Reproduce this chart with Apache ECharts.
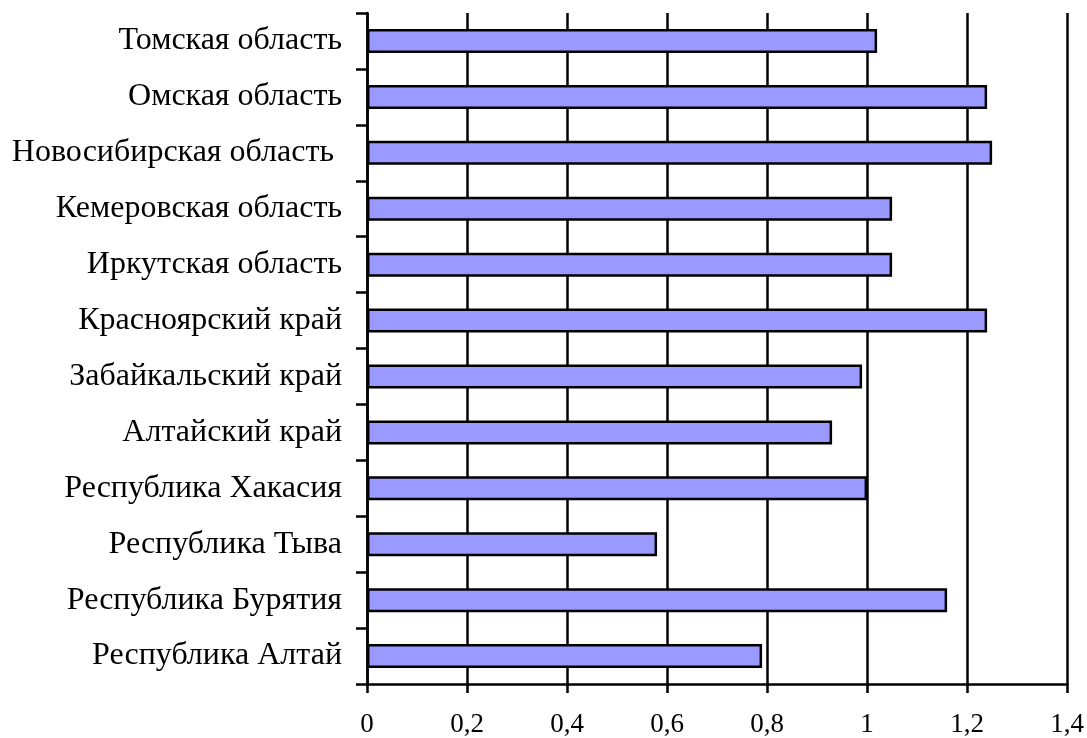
<!DOCTYPE html>
<html>
<head>
<meta charset="utf-8">
<script src="https://cdn.jsdelivr.net/npm/echarts@6/dist/echarts.min.js"></script>
<style>
  html, body { margin: 0; padding: 0; background: #fff; }
  #chart { width: 1087px; height: 738px; }
</style>
</head>
<body>
<div id="chart"></div>
<script>
// регионы сверху вниз
var regions = [
  'Томская область',
  'Омская область',
  'Новосибирская область ',
  'Кемеровская область',
  'Иркутская область',
  'Красноярский край',
  'Забайкальский край',
  'Алтайский край',
  'Республика Хакасия',
  'Республика Тыва',
  'Республика Бурятия',
  'Республика Алтай'
]
var values = [1.02, 1.24, 1.25, 1.05, 1.05, 1.24, 0.99, 0.93, 1.0, 0.58, 1.16, 0.79]
var xTicks = [0, 0.2, 0.4, 0.6, 0.8, 1, 1.2, 1.4]

var chart = echarts.init(document.getElementById('chart'))
var font = '"Liberation Serif", "Times New Roman", serif'

var option = {
  animation: false,
  backgroundColor: '#fff',
  grid: { left: 367, right: 19, top: 13, bottom: 52, containLabel: false },
  xAxis: {
    type: 'value',
    min: xTicks[0],
    max: xTicks[xTicks.length - 1],
    interval: 0.2,
    axisLine: { show: true, lineStyle: { color: '#000', width: 2.5 } },
    axisTick: { show: true, length: 9, lineStyle: { color: '#000', width: 2.5 } },
    splitLine: { show: true, lineStyle: { color: '#000', width: 2.5 } },
    axisLabel: {
      color: '#000',
      fontFamily: font,
      fontSize: 27,
      margin: 27,
      formatter: function (v) {
        return String(Math.round(v * 10) / 10).replace('.', ',')
      }
    }
  },
  yAxis: {
    type: 'category',
    inverse: true,
    data: regions,
    axisLine: { show: true, lineStyle: { color: '#000', width: 2.5 } },
    axisTick: { show: true, length: 11, lineStyle: { color: '#000', width: 2.5 } },
    axisLabel: {
      color: '#000',
      fontFamily: font,
      fontSize: 32,
      margin: 25
    }
  },
  series: [{
    type: 'bar',
    data: values,
    barWidth: 24,
    itemStyle: { color: '#9999ff', borderColor: '#000', borderWidth: 2.5 }
  }]
}
chart.setOption(option)
</script>
</body>
</html>
